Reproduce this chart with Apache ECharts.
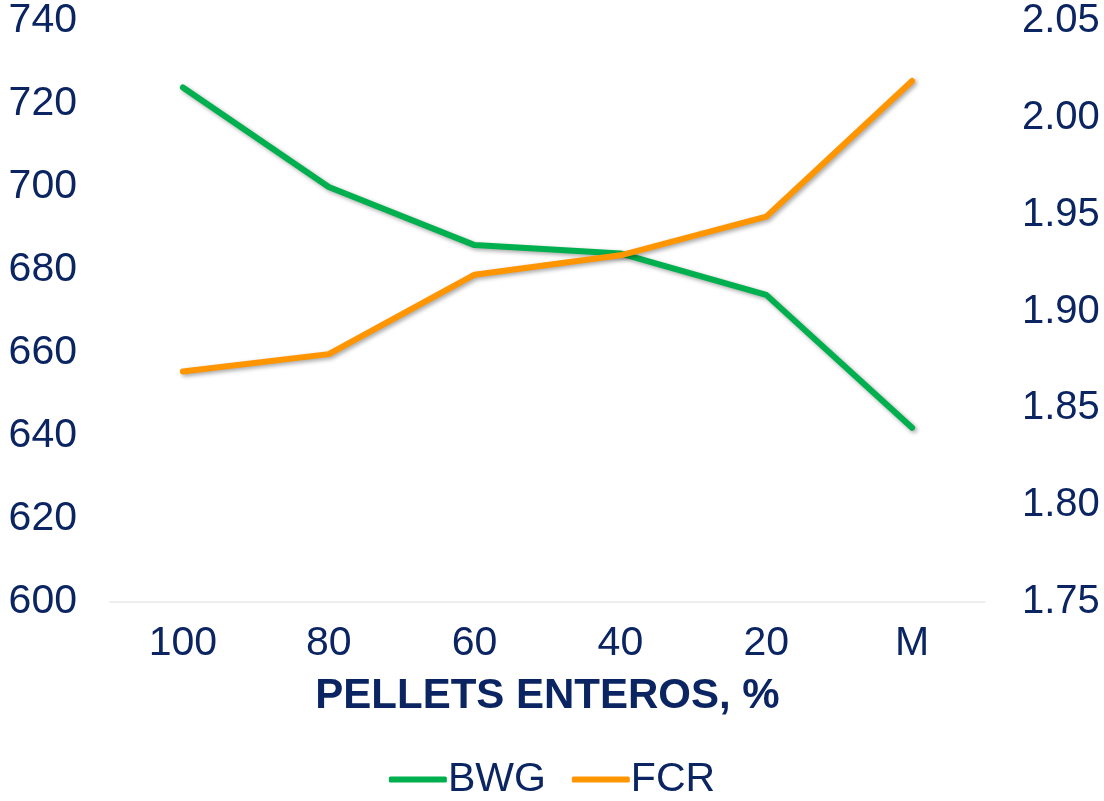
<!DOCTYPE html>
<html>
<head>
<meta charset="utf-8">
<script src="https://cdn.jsdelivr.net/npm/echarts@6/dist/echarts.min.js"></script>
<style>
  html, body { margin: 0; padding: 0; background: #fff; }
  #chart { width: 1104px; height: 801px; }
</style>
</head>
<body>
<div id="chart"></div>
<script>
// Whole-pellet share categories and the two performance series
const categories = ['100', '80', '60', '40', '20', 'M'];
const bwg = [724, 700, 686, 684, 674, 642];
const fcr = [1.869, 1.878, 1.919, 1.929, 1.949, 2.019];
const xTitle = 'PELLETS ENTEROS, %';

const navy = '#0b2462';
const green = '#00b04f';
const orange = '#ff9500';
const font = '"Liberation Sans", Arial, Helvetica, sans-serif';

const chart = echarts.init(document.getElementById('chart'), null, { renderer: 'canvas' });

const lineShadow = {
  shadowColor: 'rgba(0,0,0,0.35)',
  shadowBlur: 4,
  shadowOffsetX: 2,
  shadowOffsetY: 2
};

chart.setOption({
  animation: false,
  backgroundColor: '#fff',
  grid: { left: 110, right: 119, top: 21, bottom: 199, containLabel: false },
  legend: {
    top: 754,
    left: 'center',
    itemWidth: 58,
    itemHeight: 6,
    itemGap: 26,
    icon: 'roundRect',
    textStyle: { color: navy, fontSize: 41, fontFamily: font, padding: [0, 0, 0, -4] },
    data: ['BWG', 'FCR']
  },
  xAxis: {
    type: 'category',
    data: categories,
    boundaryGap: true,
    name: xTitle,
    nameLocation: 'middle',
    nameGap: 73,
    nameTextStyle: {
      color: navy, fontSize: 42, fontWeight: 'bold', fontFamily: font
    },
    axisLine: { show: true, lineStyle: { color: '#eeeeee', width: 2 } },
    axisTick: { show: false },
    axisLabel: { color: navy, fontSize: 41, margin: 21, fontFamily: font },
    splitLine: { show: false }
  },
  yAxis: [
    {
      type: 'value',
      min: 600, max: 740, interval: 20,
      axisLine: { show: false },
      axisTick: { show: false },
      splitLine: { show: false },
      axisLabel: { color: navy, fontSize: 41, fontFamily: font, margin: 33 }
    },
    {
      type: 'value',
      min: 1.75, max: 2.05, interval: 0.05,
      position: 'right',
      axisLine: { show: false },
      axisTick: { show: false },
      splitLine: { show: false },
      axisLabel: {
        color: navy, fontSize: 40, fontFamily: font, margin: 37,
        formatter: v => v.toFixed(2)
      }
    }
  ],
  series: [
    {
      name: 'BWG',
      type: 'line',
      yAxisIndex: 0,
      data: bwg,
      symbol: 'none',
      color: green,
      lineStyle: Object.assign({ color: green, width: 6, cap: 'round', join: 'round' }, lineShadow)
    },
    {
      name: 'FCR',
      type: 'line',
      yAxisIndex: 1,
      data: fcr,
      symbol: 'none',
      color: orange,
      lineStyle: Object.assign({ color: orange, width: 6, cap: 'round', join: 'round' }, lineShadow)
    }
  ]
});
</script>
</body>
</html>
